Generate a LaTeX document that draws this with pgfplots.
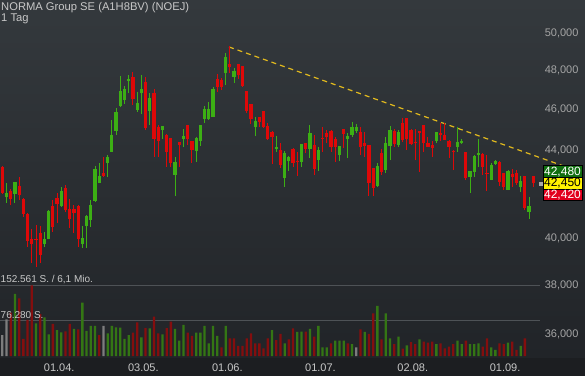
\documentclass[border=0pt]{standalone}
\usepackage{pgfplots}
\pgfplotsset{compat=1.18}
\usepackage{pgfplotstable}
\usepackage{fontspec}
\setmainfont{Liberation Sans}
\definecolor{bgtop}{RGB}{52,57,61}
\definecolor{bgbot}{RGB}{33,36,40}
\definecolor{strip}{RGB}{28,30,33}
\definecolor{cgreen}{RGB}{60,175,20}
\definecolor{cred}{RGB}{222,8,8}
\definecolor{vgreen}{RGB}{52,118,20}
\definecolor{vred}{RGB}{132,14,14}
\definecolor{vgray}{RGB}{125,125,125}
\definecolor{txt}{RGB}{200,200,200}
\definecolor{ticktxt}{RGB}{165,165,165}
\definecolor{trend}{RGB}{225,185,30}
\definecolor{vline}{RGB}{78,82,86}
\definecolor{boxgreen}{RGB}{16,110,16}
\definecolor{boxred}{RGB}{226,0,30}
\definecolor{mk}{RGB}{170,170,170}

\pgfplotstableread{
i o h l c
1 41830 42470 41560 42010
3 41970 42530 41560 42520
10 39740 40270 39620 39970
11 39970 41250 39950 41200
14 41420 42290 41380 42110
19 39740 40530 39580 40010
20 40530 41000 39580 40970
21 40800 41700 40490 41470
22 41650 43260 41600 43130
23 42480 43410 42460 42800
25 43410 43780 42750 43680
26 43930 45490 43910 44750
27 44950 46080 44750 45880
28 46180 47720 46130 46940
29 46490 47200 46280 47050
30 47460 47770 46840 47560
32 45980 46890 45880 46330
33 46840 47770 45780 47050
35 45930 46840 45240 46590
38 44990 45190 44560 45180
41 42840 43690 41870 43450
43 44560 45040 44170 44700
46 43980 44650 43450 44600
47 44460 45250 44220 45240
48 45540 46180 45340 46030
49 45540 46390 45490 46040
50 45640 47150 45620 47060
53 47870 48920 47250 48710
55 47660 48130 47350 47980
60 45140 45630 44700 45440
65 44080 44700 43930 44170
67 42710 43980 42290 43880
68 43500 43740 43030 43690
71 43450 44320 43220 44310
73 44080 45240 43640 44850
75 43550 44170 43030 44030
80 43780 44230 43500 44220
82 44560 44850 43640 44700
83 44750 45390 44650 45140
84 44950 45290 44850 45130
89 42330 43410 42290 43260
91 43080 44650 42940 44360
92 44220 45190 43550 44990
94 44260 44990 44170 44900
103 44460 44910 44360 44900
108 44170 45140 43930 44410
109 44360 44560 44310 44460
111 42750 43040 42010 43030
112 42990 43780 42750 43740
113 43780 44560 43220 43880
116 42620 43410 42600 43310
117 43360 43550 43310 43500
120 42160 43080 42140 43030
123 42290 42800 42060 42570
125 41150 41830 40840 41420
}\greentab

\pgfplotstableread{
i o h l c
0 43220 43260 41970 42010
2 42110 42200 41470 41740
4 42330 42750 41700 41920
5 41740 41760 40930 41060
6 41060 41080 39620 39880
7 39970 40400 38930 39740
8 39970 40570 38760 39920
9 40220 40530 38930 39270
12 41420 41700 40270 40490
13 41790 42010 40660 41510
15 42240 42380 41150 41250
16 41290 41740 40440 40840
17 41290 41470 40220 41110
18 41420 41440 39620 39970
24 42940 43690 42750 42800
31 47660 47920 46230 46540
34 47400 47670 44990 45090
36 46840 47050 43690 44560
37 45140 45240 43690 44460
39 44750 44770 43220 43930
40 44590 44600 43220 43410
42 44400 44410 43220 44260
44 45240 45250 44260 44560
45 44460 44470 43410 44030
51 47560 47820 46890 47150
52 47510 47610 46990 47140
54 48340 49300 47870 48180
56 48340 48360 47560 47770
57 48230 48240 47150 47200
58 46940 46960 45830 45930
59 46280 46290 45290 45540
61 45630 45640 45140 45390
62 45930 45940 45090 45140
63 45190 45340 44510 44560
64 44900 44950 43360 44650
66 44030 44360 43170 43310
69 44080 44090 43220 43410
70 43500 43930 42800 43450
72 44360 44370 43880 44080
74 44260 44750 42840 43130
76 44600 45140 43930 44560
77 44850 44990 44360 44650
78 44950 45000 43930 44170
79 44560 44650 43450 44170
81 45040 45050 44120 44800
85 44900 45140 43780 44170
86 44360 44900 43690 44220
87 44260 44270 41870 42470
88 43170 43180 41870 42240
90 43880 44080 42840 42990
93 44950 45040 44170 44310
95 45340 45580 44410 44510
96 45580 45590 44030 44560
97 44990 45040 44260 44310
98 44410 45040 43550 44360
99 44940 44950 42990 44850
100 45240 45250 43930 44360
101 44360 44650 44170 44180
102 44260 44460 43690 44120
104 44850 45340 44460 44750
105 44750 45340 44500 44510
106 44460 44510 43640 44170
107 43980 44030 43080 43930
110 43930 43940 42610 42710
114 43830 43880 42840 43220
115 42940 43780 42110 42890
118 43450 43500 42330 42520
119 42940 42950 42150 42290
121 42890 43130 42290 42750
122 42940 43080 42380 42470
124 42800 42810 41250 41330
126 42800 42810 42290 42450
}\redtab

\pgfplotstableread{
i v
3 133800
8 70500
10 83500
11 46800
13 56100
14 51100
17 58300
19 115100
20 54000
21 64800
22 64800
25 48900
26 64800
27 61900
28 61200
29 36700
30 45300
33 40300
35 59700
38 46800
41 58300
42 33100
43 66900
46 50400
47 50400
48 64800
49 27300
50 64800
51 43200
53 64800
64 56100
67 27300
70 51800
71 52500
73 58300
75 64800
76 18700
77 18700
79 33100
80 33100
81 33100
83 25900
86 51800
89 107900
91 92100
92 38100
94 41700
96 23000
99 36000
103 25900
108 33100
109 25900
111 25900
112 25900
113 27300
116 18700
117 13000
120 28800
123 21600
}\volgreen

\pgfplotstableread{
i v
2 93500
4 124500
5 36700
6 77700
7 152500
9 90700
12 69100
15 53200
16 69100
18 57600
23 45300
31 50400
32 72700
34 60400
36 84900
37 48900
39 60400
40 74100
44 50400
45 43200
52 18700
54 38100
55 38100
56 21600
57 21600
58 38100
59 48900
60 27300
61 27300
62 16600
63 38100
65 34500
66 47500
68 36000
69 59700
72 52500
74 41700
78 27300
82 27300
85 57600
87 47500
88 92100
90 36000
93 25900
95 15800
97 30200
98 25900
100 30900
101 28800
102 30900
104 27300
105 16600
106 20100
107 25900
110 33100
114 20100
115 38100
118 27300
119 25900
121 30900
122 13000
124 38100
}\volred

\pgfplotstableread{
i v
0 45300
1 79150
24 64800
84 18700
}\volgray

\pgfplotsset{
  base/.style={
    at={(0pt,18pt)}, anchor=south west,
    width=585pt, height=358pt, scale only axis,
    xmin=-0.546, xmax=138.27,
    axis line style={draw=none}, tick style={draw=none},
    clip=false,
  },
  candle/.style 2 args={draw=none, mark=none, forget plot,
    error bars/.cd, y dir=plus, y explicit, error mark=none,
    error bar style={draw=#1, line width=#2}},
}

\begin{document}
\begin{tikzpicture}
\useasboundingbox (0pt,0pt) rectangle (585pt,376pt);
\shade[top color=bgtop, bottom color=bgbot] (0pt,18pt) rectangle (585pt,376pt);
\fill[strip] (0pt,0pt) rectangle (585pt,18pt);

% volume panel
\begin{axis}[base, ymin=-4315, ymax=768100, xtick=\empty, ytick=\empty]
  \addplot[vline, line width=1pt] coordinates {(-0.546,152561) (127.6,152561)};
  \addplot[vline, line width=1pt] coordinates {(-0.546,76280) (127.6,76280)};
  \addplot[ybar, bar width=2.3pt, bar shift=0pt, fill=vgreen, draw=none] table[x=i,y=v] {\volgreen};
  \addplot[ybar, bar width=2.3pt, bar shift=0pt, fill=vred, draw=none] table[x=i,y=v] {\volred};
  \addplot[ybar, bar width=2.3pt, bar shift=0pt, fill=vgray, draw=none] table[x=i,y=v] {\volgray};
\end{axis}

% price panel
\begin{axis}[base, ymode=log, ymin=35107, ymax=51828,
  ytick={36000,38000,40000,44000,46000,48000,50000},
  yticklabels={{36,000},{38,000},{40,000},{44,000},{46,000},{48,000},{50,000}},
  yticklabel pos=right,
  yticklabel style={anchor=east, xshift=-3pt, font=\fontsize{11}{13}\selectfont, text=ticktxt},
  xtick={13.5,33.46,53.39,75.5,97.4,119.3},
  xticklabels={01.04.,03.05.,01.06.,01.07.,02.08.,01.09.},
  xticklabel style={anchor=center, yshift=-10pt, font=\fontsize{11}{13}\selectfont, text=txt},
]
  \addplot[trend, line width=1.2pt, dash pattern=on 5pt off 4pt] coordinates {(53.8,49240) (138.27,42900)};
  % wicks
  \addplot[candle={cgreen}{1pt}]
    table[x=i, y=l, y error plus expr={\thisrow{h}-\thisrow{l}}] {\greentab};
  \addplot[candle={cred}{1pt}]
    table[x=i, y=l, y error plus expr={\thisrow{h}-\thisrow{l}}] {\redtab};
  % bodies
  \addplot[candle={cgreen}{3.2pt}]
    table[x=i, y=o, y error plus expr={\thisrow{c}-\thisrow{o}}] {\greentab};
  \addplot[candle={cred}{3.2pt}]
    table[x=i, y=c, y error plus expr={\thisrow{o}-\thisrow{c}}] {\redtab};
  % last price marker
  \addplot[only marks, mark=square*, mark size=1.5pt, color=mk] coordinates {(127.83,42450)};
  \node[fill=boxgreen, draw=black, line width=1pt, minimum width=39pt, minimum height=11.6pt, inner sep=0pt, text=white, font=\fontsize{12}{12}\selectfont, yshift=11.6pt] at (axis cs:132.93,42450) {42,480};
  \node[fill=yellow, draw=black, line width=1pt, minimum width=39pt, minimum height=11.6pt, inner sep=0pt, text=black, font=\fontsize{12}{12}\selectfont] at (axis cs:132.93,42450) {42,450};
  \node[fill=boxred, draw=black, line width=1pt, minimum width=39pt, minimum height=11.6pt, inner sep=0pt, text=white, font=\fontsize{12}{12}\selectfont, yshift=-11.6pt] at (axis cs:132.93,42450) {42,420};
\end{axis}

\node[anchor=base west, inner sep=0pt, text=txt, font=\fontsize{11.2}{13}\selectfont] at (1pt,365.4pt) {NORMA Group SE (A1H8BV) (NOEJ)};
\node[anchor=base west, inner sep=0pt, text=txt, font=\fontsize{11.2}{13}\selectfont] at (1pt,354.8pt) {1 Tag};
\node[anchor=base west, inner sep=0pt, text=txt, font=\fontsize{10}{12}\selectfont] at (0.5pt,93.3pt) {152.561 S. / 6,1 Mio.};
\node[anchor=base west, inner sep=0pt, text=txt, font=\fontsize{10}{12}\selectfont] at (0.5pt,57.7pt) {76.280 S.};
\end{tikzpicture}
\end{document}
